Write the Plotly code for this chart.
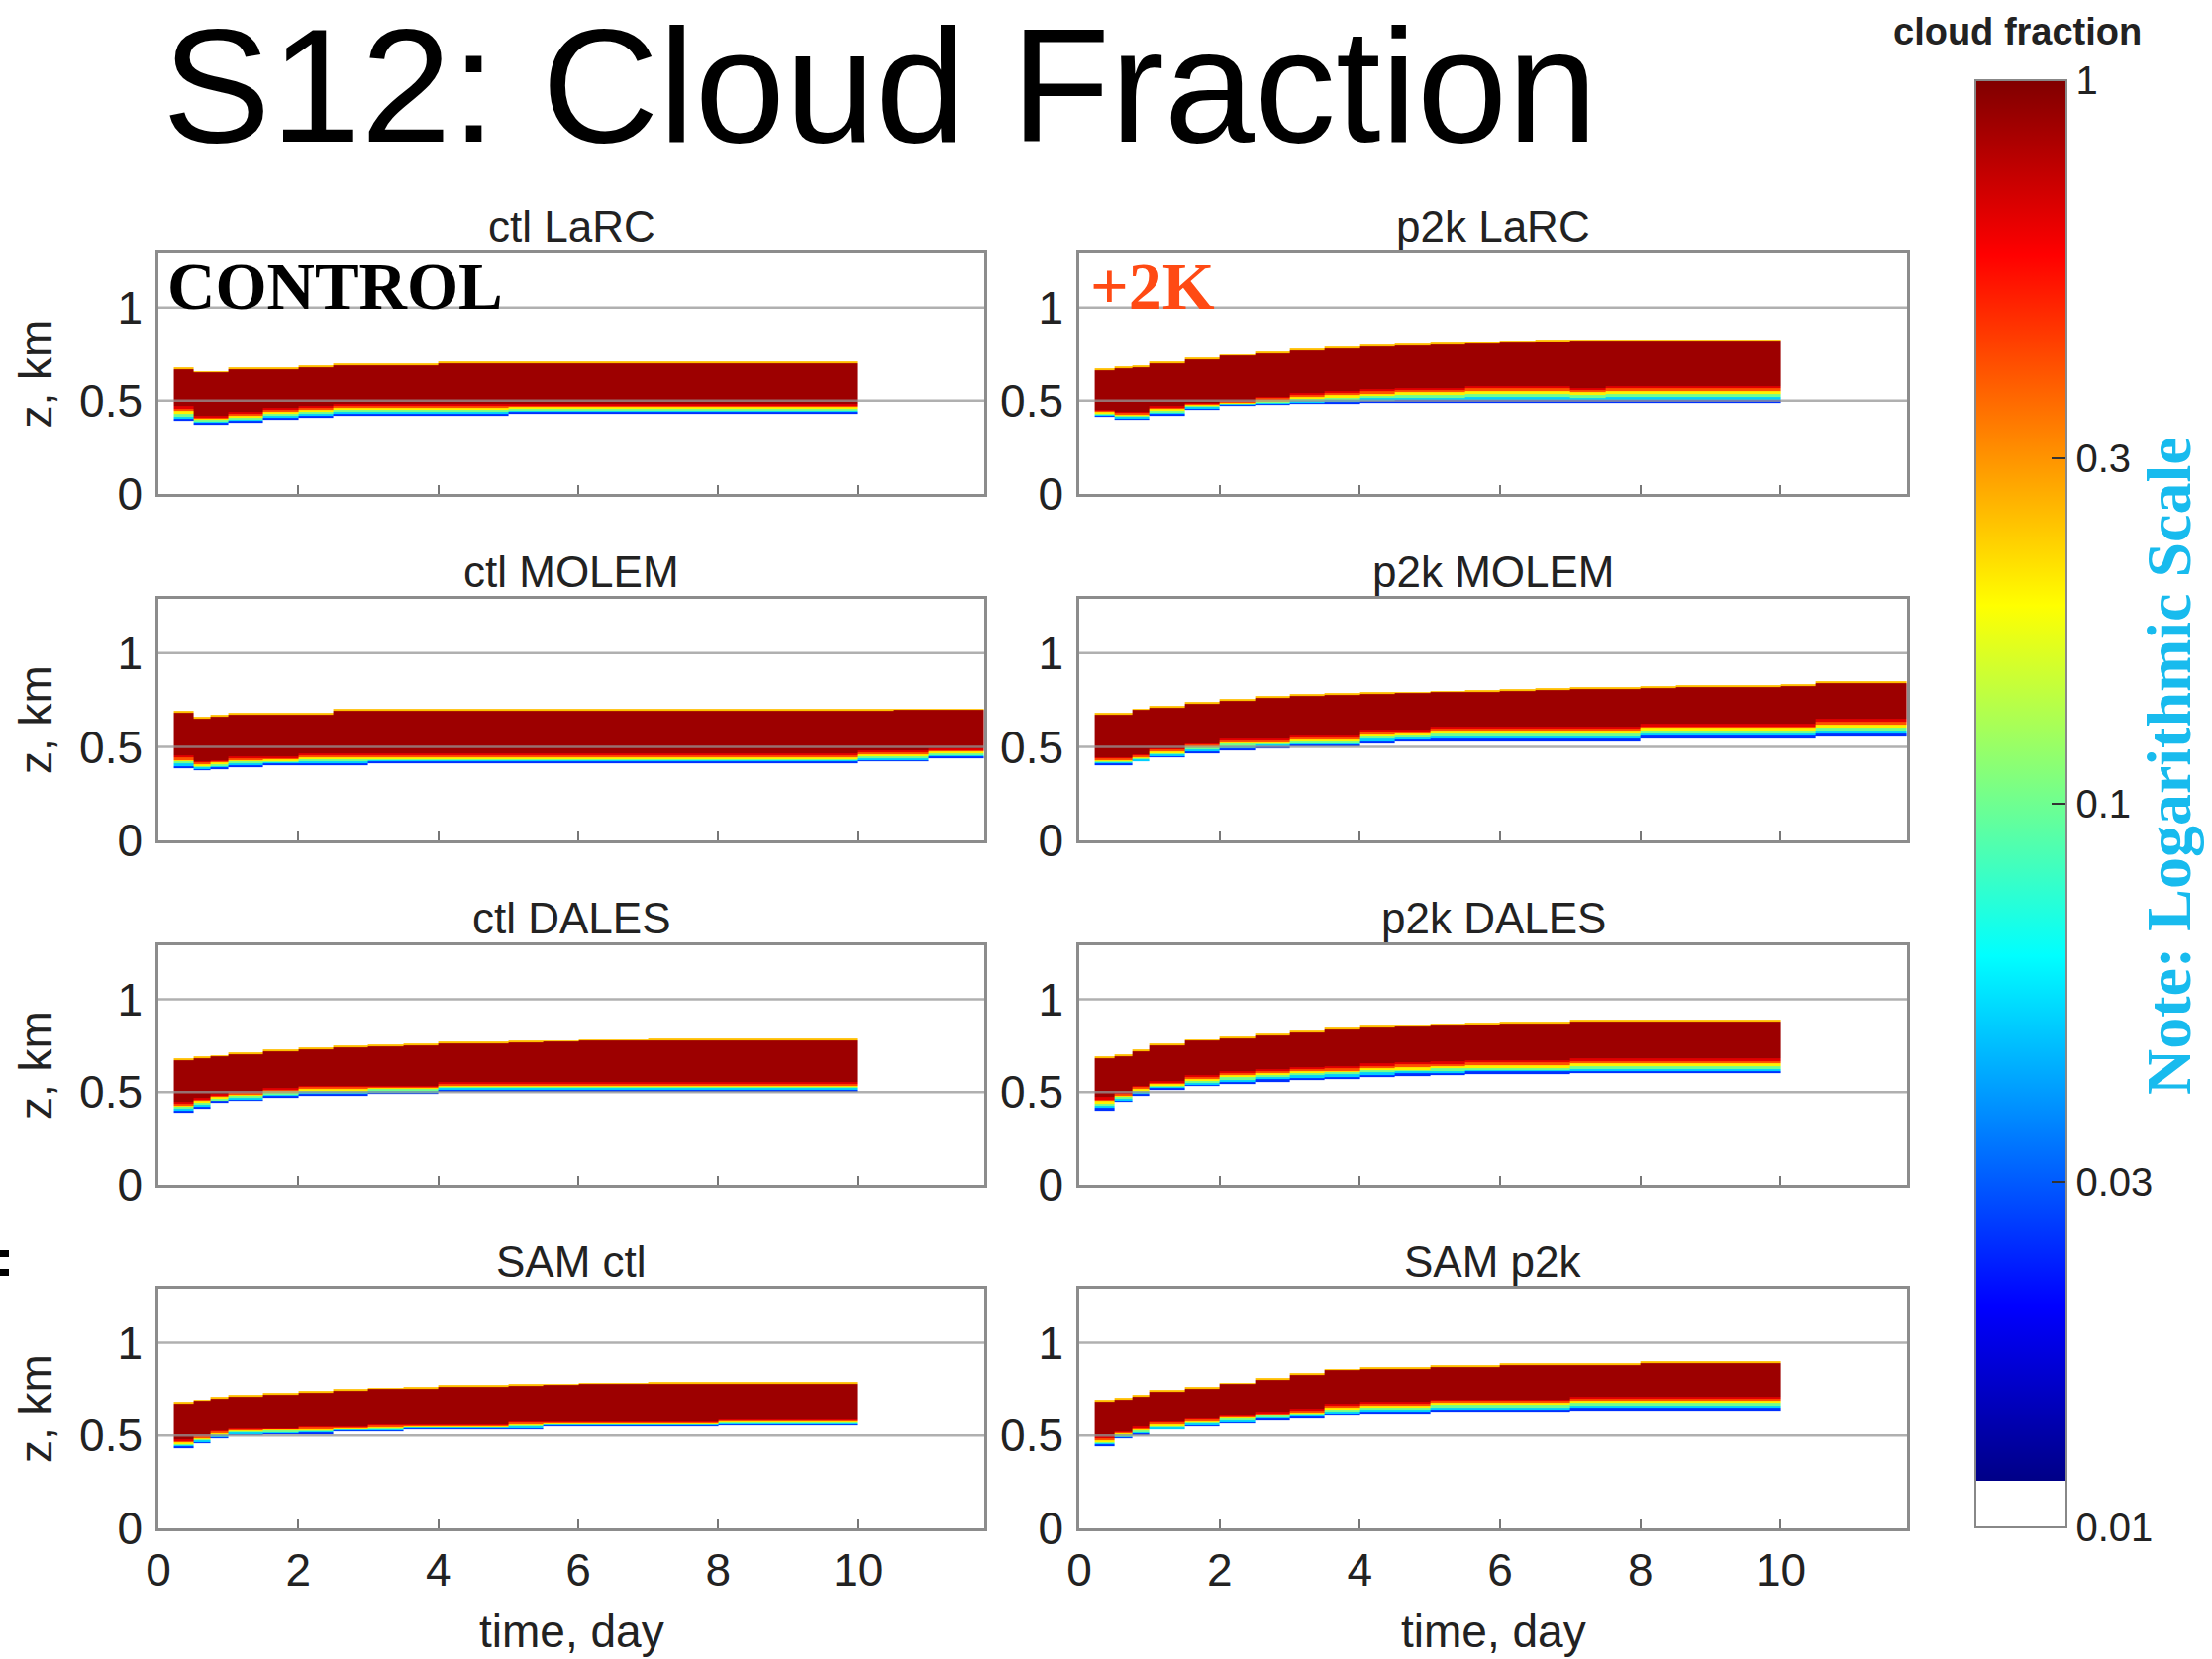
import numpy as np
import plotly.graph_objects as go

# ---------------- data ----------------
T_EDGES = [0.22, 0.5, 0.75, 1.0, 1.5, 2.0, 2.5, 3.0, 3.5, 4.0, 4.5, 5.0, 5.5,
           6.0, 6.5, 7.0, 7.5, 8.0, 8.5, 9.0, 9.5, 10.0]
T_EDGES_LONG = T_EDGES + [10.5, 11.0, 11.5, 11.8]

PANEL_TITLES = ["ctl LaRC", "p2k LaRC", "ctl MOLEM", "p2k MOLEM",
                "ctl DALES", "p2k DALES", "SAM ctl", "SAM p2k"]

# cloud top, lowest cloudy level, bottom of the overcast core (km)
CTL_LARC_TOP = [0.68, 0.66, 0.66, 0.68, 0.68, 0.69, 0.70, 0.70, 0.70, 0.71, 0.71,
                0.71, 0.71, 0.71, 0.71, 0.71, 0.71, 0.71, 0.71, 0.71, 0.71]
CTL_LARC_BASE = [0.39, 0.37, 0.37, 0.38, 0.40, 0.41, 0.42, 0.42, 0.42, 0.42, 0.42,
                 0.43, 0.43, 0.43, 0.43, 0.43, 0.43, 0.43, 0.43, 0.43, 0.43]
CTL_LARC_CORE = [0.47, 0.42, 0.42, 0.44, 0.46, 0.47, 0.48, 0.48, 0.48, 0.48, 0.48,
                 0.48, 0.48, 0.48, 0.48, 0.48, 0.48, 0.48, 0.48, 0.48, 0.48]

P2K_LARC_TOP = [0.675, 0.685, 0.69, 0.71, 0.73, 0.75, 0.765, 0.78, 0.79, 0.80, 0.805,
                0.81, 0.815, 0.82, 0.825, 0.83, 0.83, 0.83, 0.83, 0.83, 0.83]
P2K_LARC_BASE = [0.415, 0.40, 0.40, 0.42, 0.45, 0.47, 0.475, 0.48, 0.485, 0.49, 0.49,
                 0.49, 0.49, 0.49, 0.49, 0.49, 0.49, 0.49, 0.49, 0.49, 0.49]
P2K_LARC_CORE = [0.45, 0.44, 0.44, 0.47, 0.49, 0.50, 0.52, 0.54, 0.55, 0.56, 0.57,
                 0.57, 0.58, 0.58, 0.58, 0.57, 0.58, 0.58, 0.58, 0.58, 0.58]

CTL_MOLEM_TOP = [0.69, 0.66, 0.67, 0.68, 0.68, 0.68, 0.70, 0.70, 0.70, 0.70, 0.70, 0.70,
                 0.70, 0.70, 0.70, 0.70, 0.70, 0.70, 0.70, 0.70, 0.70, 0.70, 0.705, 0.705, 0.705]
CTL_MOLEM_BASE = [0.385, 0.375, 0.38, 0.39, 0.40, 0.40, 0.40, 0.41, 0.41, 0.41, 0.41, 0.41,
                  0.41, 0.41, 0.41, 0.41, 0.41, 0.41, 0.41, 0.41, 0.41, 0.42, 0.42, 0.44, 0.44]
CTL_MOLEM_CORE = [0.455, 0.42, 0.43, 0.45, 0.45, 0.465, 0.465, 0.465, 0.465, 0.465, 0.465,
                  0.465, 0.465, 0.465, 0.465, 0.465, 0.465, 0.465, 0.465, 0.465, 0.465,
                  0.48, 0.48, 0.49, 0.49]

P2K_MOLEM_TOP = [0.68, 0.68, 0.705, 0.72, 0.74, 0.755, 0.77, 0.78, 0.785, 0.79, 0.795, 0.80,
                 0.805, 0.81, 0.815, 0.82, 0.82, 0.825, 0.83, 0.83, 0.83, 0.835, 0.85, 0.85, 0.85]
P2K_MOLEM_BASE = [0.40, 0.40, 0.42, 0.445, 0.465, 0.48, 0.49, 0.50, 0.50, 0.52, 0.53, 0.53,
                  0.53, 0.53, 0.53, 0.53, 0.53, 0.545, 0.545, 0.545, 0.545, 0.545, 0.555,
                  0.555, 0.555]
P2K_MOLEM_CORE = [0.445, 0.445, 0.46, 0.49, 0.52, 0.545, 0.545, 0.56, 0.56, 0.59, 0.59, 0.61,
                  0.61, 0.61, 0.61, 0.61, 0.61, 0.625, 0.625, 0.625, 0.625, 0.625, 0.65,
                  0.65, 0.65]

CTL_DALES_TOP = [0.68, 0.69, 0.70, 0.715, 0.73, 0.74, 0.75, 0.755, 0.76, 0.77, 0.77,
                 0.775, 0.78, 0.785, 0.785, 0.79, 0.79, 0.79, 0.79, 0.79, 0.79]
CTL_DALES_BASE = [0.39, 0.41, 0.44, 0.455, 0.47, 0.48, 0.48, 0.49, 0.49, 0.50, 0.50,
                  0.50, 0.50, 0.50, 0.50, 0.50, 0.50, 0.50, 0.50, 0.50, 0.50]
CTL_DALES_CORE = [0.445, 0.47, 0.49, 0.50, 0.52, 0.535, 0.535, 0.535, 0.535, 0.555, 0.555,
                  0.555, 0.555, 0.555, 0.555, 0.555, 0.555, 0.555, 0.555, 0.555, 0.555]

P2K_DALES_TOP = [0.69, 0.705, 0.73, 0.76, 0.785, 0.80, 0.815, 0.83, 0.845, 0.855, 0.86,
                 0.87, 0.875, 0.88, 0.88, 0.89, 0.89, 0.89, 0.89, 0.89, 0.89]
P2K_DALES_BASE = [0.40, 0.445, 0.48, 0.51, 0.53, 0.545, 0.557, 0.565, 0.57, 0.58, 0.585,
                  0.59, 0.595, 0.595, 0.595, 0.60, 0.60, 0.60, 0.60, 0.60, 0.60]
P2K_DALES_CORE = [0.475, 0.50, 0.535, 0.56, 0.59, 0.61, 0.625, 0.635, 0.64, 0.655, 0.66,
                  0.665, 0.67, 0.67, 0.67, 0.68, 0.68, 0.68, 0.68, 0.68, 0.68]

SAM_CTL_TOP = [0.68, 0.695, 0.71, 0.72, 0.73, 0.74, 0.75, 0.757, 0.76, 0.77, 0.77,
               0.775, 0.78, 0.785, 0.785, 0.79, 0.79, 0.79, 0.79, 0.79, 0.79]
SAM_CTL_BASE = [0.43, 0.46, 0.485, 0.50, 0.505, 0.505, 0.52, 0.52, 0.535, 0.535, 0.535,
                0.535, 0.55, 0.55, 0.55, 0.55, 0.55, 0.557, 0.557, 0.557, 0.557]
SAM_CTL_CORE = [0.48, 0.50, 0.525, 0.54, 0.54, 0.55, 0.55, 0.56, 0.56, 0.56, 0.56,
                0.575, 0.575, 0.575, 0.575, 0.575, 0.575, 0.585, 0.585, 0.585, 0.585]

SAM_P2K_TOP = [0.69, 0.705, 0.72, 0.745, 0.76, 0.785, 0.81, 0.835, 0.857, 0.87, 0.87,
               0.88, 0.88, 0.89, 0.89, 0.89, 0.89, 0.90, 0.90, 0.90, 0.90]
SAM_P2K_BASE = [0.44, 0.485, 0.50, 0.53, 0.55, 0.565, 0.58, 0.59, 0.607, 0.62, 0.62,
                0.63, 0.63, 0.63, 0.63, 0.637, 0.637, 0.637, 0.637, 0.637, 0.637]
SAM_P2K_CORE = [0.495, 0.52, 0.55, 0.575, 0.59, 0.61, 0.63, 0.645, 0.67, 0.68, 0.68,
                0.697, 0.697, 0.697, 0.697, 0.71, 0.71, 0.71, 0.71, 0.71, 0.71]

# cloud fraction in the transition layer (from cloud base up to the overcast core)
FRINGE_CF = [0.025, 0.05, 0.1, 0.2, 0.4, 0.65]
CORE_CF = 0.88
TOP_EDGE_CF = 0.25

CB_TICK_VALUES = [0.01, 0.03, 0.1, 0.3, 1]
CB_TICK_LABELS = ["0.01", "0.03", "0.1", "0.3", "1"]
X_TICKS = [0, 2, 4, 6, 8, 10]
Y_TICKS = [0, 0.5, 1]
Y_TICK_LABELS = ["0", "0.5", "1"]

PANELS = [
    (T_EDGES, CTL_LARC_TOP, CTL_LARC_BASE, CTL_LARC_CORE),
    (T_EDGES, P2K_LARC_TOP, P2K_LARC_BASE, P2K_LARC_CORE),
    (T_EDGES_LONG, CTL_MOLEM_TOP, CTL_MOLEM_BASE, CTL_MOLEM_CORE),
    (T_EDGES_LONG, P2K_MOLEM_TOP, P2K_MOLEM_BASE, P2K_MOLEM_CORE),
    (T_EDGES, CTL_DALES_TOP, CTL_DALES_BASE, CTL_DALES_CORE),
    (T_EDGES, P2K_DALES_TOP, P2K_DALES_BASE, P2K_DALES_CORE),
    (T_EDGES, SAM_CTL_TOP, SAM_CTL_BASE, SAM_CTL_CORE),
    (T_EDGES, SAM_P2K_TOP, SAM_P2K_BASE, SAM_P2K_CORE),
]

# ---------------- figure ----------------
W, H = 2234, 1676
DZ = 0.005
Z_EDGES = np.round(np.arange(0, 1.3 + DZ / 2, DZ), 4)
Z_CENT = (Z_EDGES[:-1] + Z_EDGES[1:]) / 2


def build_grid(top, base, core):
    grid = np.full((len(Z_CENT), len(top)), np.nan)
    for j, (t, b, c) in enumerate(zip(top, base, core)):
        for k, zc in enumerate(Z_CENT):
            if zc < b or zc > t:
                continue
            if zc >= t - 0.008:
                v = TOP_EDGE_CF
            elif zc >= c:
                v = CORE_CF
            else:
                idx = int((zc - b) / max(c - b, 1e-6) * len(FRINGE_CF))
                v = FRINGE_CF[min(idx, len(FRINGE_CF) - 1)]
            grid[k, j] = np.log10(v)
    return grid


# MATLAB-like jet, with a white band at the very bottom as in the colorbar
jet = [(0.0, "rgb(0,0,135)"), (0.125, "rgb(0,0,255)"), (0.375, "rgb(0,255,255)"),
       (0.625, "rgb(255,255,0)"), (0.875, "rgb(255,0,0)"), (1.0, "rgb(128,0,0)")]
WHITE_FRAC = 0.032
colorscale = [[0.0, "white"], [WHITE_FRAC, "white"]]
for p, c in jet:
    colorscale.append([WHITE_FRAC + p * (1 - WHITE_FRAC), c])

px = lambda v: v / W
py = lambda v: 1 - v / H

COL_X = [(160, 994), (1090, 1926)]
ROW_Y = [(256, 499), (605, 849), (955, 1197), (1302, 1544)]
CB_X0, CB_X1, CB_Y0, CB_LEN = 1995, 2087, 81, 1462

fig = go.Figure()
layout = dict(
    width=W, height=H, margin=dict(l=0, r=0, t=0, b=0, autoexpand=False),
    paper_bgcolor="white", plot_bgcolor="white", showlegend=False,
    font=dict(family="Liberation Sans, Arial, sans-serif", color="#222"),
    coloraxis=dict(
        colorscale=colorscale, cmin=-2, cmax=0,
        colorbar=dict(
            x=px(CB_X0), xanchor="left", y=py(CB_Y0), yanchor="top",
            len=CB_LEN, lenmode="pixels", thickness=CB_X1 - CB_X0,
            thicknessmode="pixels",
            xpad=0, ypad=0, outlinecolor="#888", outlinewidth=2,
            tickvals=[float(np.log10(v)) for v in CB_TICK_VALUES],
            ticktext=CB_TICK_LABELS, ticks="inside", ticklen=16,
            tickcolor="#333", tickwidth=2,
            tickfont=dict(size=40, family="Liberation Sans, Arial", color="#222"),
        ),
    ),
)
annotations = []
shapes = []

for i, (edges, top, base, core) in enumerate(PANELS):
    n = i + 1
    r, c = divmod(i, 2)
    x0, x1 = COL_X[c]
    y0, y1 = ROW_Y[r]
    xa = "xaxis" if n == 1 else f"xaxis{n}"
    ya = "yaxis" if n == 1 else f"yaxis{n}"
    xr = "x" if n == 1 else f"x{n}"
    yr = "y" if n == 1 else f"y{n}"
    fig.add_trace(go.Heatmap(
        x=edges, y=Z_EDGES, z=build_grid(top, base, core),
        coloraxis="coloraxis", xaxis=xr, yaxis=yr, hoverinfo="skip",
        zsmooth=False,
    ))
    layout[xa] = dict(
        domain=[px(x0), px(x1)], anchor=yr, range=[0, 11.8], automargin=False,
        tickvals=X_TICKS, ticks="inside", ticklen=9, tickwidth=2, tickcolor="#777",
        showticklabels=(r == 3), tickfont=dict(size=46),
        ticklabelstandoff=0,
        showline=True, mirror=True, linecolor="#8c8c8c", linewidth=2.5,
        showgrid=False, zeroline=False, fixedrange=True,
    )
    layout[ya] = dict(
        domain=[py(y1), py(y0)], anchor=xr, range=[0, 1.29], automargin=False,
        tickvals=Y_TICKS, ticktext=Y_TICK_LABELS, ticks="",
        tickfont=dict(size=46), ticklabelstandoff=4,
        showline=True, mirror=True, linecolor="#8c8c8c", linewidth=2.5,
        showgrid=False, zeroline=False, fixedrange=True,
    )
    for gy in (0.5, 1.0):
        shapes.append(dict(type="line", xref=f"{xr} domain", yref=yr,
                           x0=0, x1=1, y0=gy, y1=gy, layer="above",
                           line=dict(color="rgba(150,150,150,0.75)", width=2.5)))
    annotations.append(dict(
        text=PANEL_TITLES[i], xref="paper", yref="paper",
        x=px((x0 + x1) / 2), y=py(y0), xanchor="center", yanchor="bottom",
        yshift=1, showarrow=False, font=dict(size=44, color="#222")))
    if c == 0:
        annotations.append(dict(
            text="z, km", xref="paper", yref="paper", textangle=-90,
            x=px(36), y=py((y0 + y1) / 2), xanchor="center", yanchor="middle",
            showarrow=False, font=dict(size=46, color="#222")))
    if r == 3:
        annotations.append(dict(
            text="time, day", xref="paper", yref="paper",
            x=px((x0 + x1) / 2), y=py(1648), xanchor="center", yanchor="middle",
            showarrow=False, font=dict(size=46, color="#222")))

# second set of colorbar tick marks (inside the left edge of the bar)
for v in CB_TICK_VALUES[1:-1]:
    yy = CB_Y0 + (0 - np.log10(v)) / 2 * CB_LEN
    shapes.append(dict(type="line", xref="paper", yref="paper",
                       x0=px(CB_X0), x1=px(CB_X0 + 16), y0=py(yy), y1=py(yy),
                       line=dict(color="#333", width=2)))

# titles and labels
annotations += [
    dict(text="S12: Cloud Fraction", xref="paper", yref="paper",
         x=px(888), y=py(86), xanchor="center", yanchor="middle", showarrow=False,
         font=dict(size=164, family="Liberation Sans, Arial", color="black")),
    dict(text="<b>CONTROL</b>", xref="paper", yref="paper",
         x=px(167), y=py(289), xanchor="left", yanchor="middle", showarrow=False,
         font=dict(size=67, family="Liberation Serif, Times New Roman", color="black")),
    dict(text="<b>+2K</b>", xref="paper", yref="paper",
         x=px(1099), y=py(289), xanchor="left", yanchor="middle", showarrow=False,
         font=dict(size=68, family="Liberation Serif, Times New Roman", color="#FF4A14")),
    dict(text="<b>cloud fraction</b>", xref="paper", yref="paper",
         x=px(2037), y=py(32), xanchor="center", yanchor="middle", showarrow=False,
         font=dict(size=38, family="Liberation Sans, Arial", color="#222")),
    dict(text="<b>Note: Logarithmic Scale</b>", xref="paper", yref="paper",
         x=px(2190), y=py(774), xanchor="center", yanchor="middle", textangle=-90,
         showarrow=False,
         font=dict(size=64, family="Liberation Serif, Times New Roman", color="#18BBEE")),
]

# small stray marks at the left edge of the slide
for yy in (1263, 1282):
    shapes.append(dict(type="rect", xref="paper", yref="paper",
                       x0=0, x1=px(9), y0=py(yy + 7), y1=py(yy),
                       fillcolor="black", line=dict(width=0)))

layout["annotations"] = annotations
layout["shapes"] = shapes
fig.update_layout(**layout)
fig.write_html("out.html")
